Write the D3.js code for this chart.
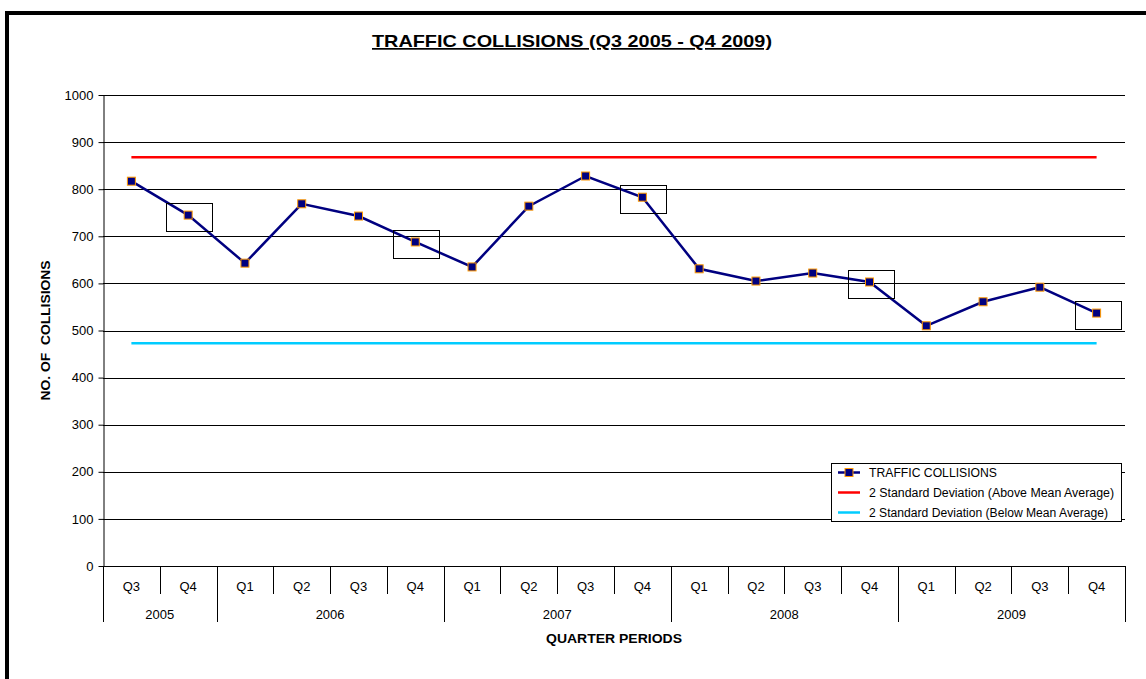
<!DOCTYPE html>
<html>
<head>
<meta charset="utf-8">
<script src="https://cdn.jsdelivr.net/npm/d3@7"></script>
<style>
	body { margin: 0; background: #fff; }
	svg text { font-family: Arial, "Liberation Sans", sans-serif; fill: #000; }
</style>
</head>
<body>
<div id="chart"></div>
<script>
//// data ////
var quarters = ["Q3","Q4","Q1","Q2","Q3","Q4","Q1","Q2","Q3","Q4","Q1","Q2","Q3","Q4","Q1","Q2","Q3","Q4"];
var years = ["2005","2005","2006","2006","2006","2006","2007","2007","2007","2007","2008","2008","2008","2008","2009","2009","2009","2009"];
var collisions = [817,745,643,769,743,688,635,764,828,783,631,605,622,603,510,561,592,537];
var upperLimit = 868;   // 2 SD above mean
var lowerLimit = 473;   // 2 SD below mean
var yTicks = [0,100,200,300,400,500,600,700,800,900,1000];
var highlighted = [1,5,9,13,17]; // Q4 points that have a box drawn round them

var W = 1146, H = 679;
var FONT = "Arial, 'Liberation Sans', sans-serif";
var margin = {left:103, top:95, right:21, bottom:113};
var width = W - margin.left - margin.right,
	height = H - margin.top - margin.bottom;

var svg = d3.select("#chart").append("svg")
	.attr("width", W)
	.attr("height", H)
	.attr("font-family", FONT);

// frame (only top and left edges show in the picture)
svg.append("rect")
	.attr("x", 7).attr("y", 13)
	.attr("width", W + 20).attr("height", H + 20)
	.attr("fill", "none")
	.attr("stroke", "#000")
	.attr("stroke-width", 4);

//title
svg.append("text")
	.attr("x", 572).attr("y", 47)
	.attr("text-anchor", "middle")
	.attr("textLength", 400)
	.attr("lengthAdjust", "spacingAndGlyphs")
	.style("font-size", "17px")
	.style("font-weight", "bold")
	.style("text-decoration", "underline")
	.text("TRAFFIC COLLISIONS (Q3 2005 - Q4 2009)");

var g = svg.append("g")
	.attr("transform", "translate(" + margin.left + "," + margin.top + ")");

var idx = d3.range(quarters.length);
var x = d3.scaleBand().domain(idx).range([0, width]);
var y = d3.scaleLinear().domain([0, 1000]).range([height, 0]);
var cx = function(i) { return x(i) + x.bandwidth() / 2; };

// gridlines
g.selectAll("line.grid")
	.data(yTicks.filter(function(t){ return t > 0; }))
	.enter().append("line")
	.attr("class", "grid")
	.attr("x1", 0).attr("x2", width)
	.attr("y1", function(d){ return Math.round(y(d)) + 0.5; })
	.attr("y2", function(d){ return Math.round(y(d)) + 0.5; })
	.attr("stroke", "#000")
	.attr("stroke-width", 1);

// y axis
var yAxis = g.append("g")
	.attr("transform", "translate(0.5,0)")
	.call(d3.axisLeft(y).tickValues(yTicks).tickFormat(d3.format("d")).tickSize(5).tickPadding(5).tickSizeOuter(0));
yAxis.attr("font-family", FONT).attr("font-size", 13);
yAxis.select(".domain").attr("stroke", "#000");
yAxis.selectAll("text").attr("fill", "#000");

// x axis line
g.append("line")
	.attr("x1", 0).attr("x2", width)
	.attr("y1", height + 0.5).attr("y2", height + 0.5)
	.attr("stroke", "#000");

// category separators: quarter ticks short, year boundaries long
var bounds = d3.range(quarters.length + 1);
g.selectAll("line.sep")
	.data(bounds)
	.enter().append("line")
	.attr("class", "sep")
	.attr("x1", function(i){ return Math.round(i * x.step()) + 0.5; })
	.attr("x2", function(i){ return Math.round(i * x.step()) + 0.5; })
	.attr("y1", height)
	.attr("y2", function(i){
		var isYear = i == 0 || i == quarters.length || years[i] != years[i-1];
		return height + (isYear ? 56 : 28);
	})
	.attr("stroke", "#000");

g.selectAll("text.qtr")
	.data(idx)
	.enter().append("text")
	.attr("class", "qtr")
	.attr("x", cx)
	.attr("y", height + 25)
	.attr("text-anchor", "middle")
	.style("font-size", "13px")
	.text(function(i){ return quarters[i]; });

// year labels centred across their quarters
var yearGroups = d3.groups(idx, function(i){ return years[i]; });
g.selectAll("text.year")
	.data(yearGroups)
	.enter().append("text")
	.attr("class", "year")
	.attr("x", function(d){ return (x(d[1][0]) + x(d[1][d[1].length-1]) + x.bandwidth()) / 2; })
	.attr("y", height + 53)
	.attr("text-anchor", "middle")
	.style("font-size", "13px")
	.text(function(d){ return d[0]; });

// axis titles
g.append("text")
	.attr("x", width / 2).attr("y", height + 77)
	.attr("text-anchor", "middle")
	.attr("textLength", 136)
	.attr("lengthAdjust", "spacingAndGlyphs")
	.style("font-size", "13.5px").style("font-weight", "bold")
	.text("QUARTER PERIODS");

g.append("text")
	.attr("transform", "translate(" + (-53) + "," + (height/2) + ") rotate(-90)")
	.attr("text-anchor", "middle")
	.attr("textLength", 140)
	.attr("lengthAdjust", "spacingAndGlyphs")
	.style("font-size", "13.5px").style("font-weight", "bold")
	.style("white-space", "pre")
	.text("NO. OF  COLLISIONS");

// limit lines
function limitLine(val, col) {
	g.append("line")
		.attr("x1", cx(0)).attr("x2", cx(quarters.length - 1))
		.attr("y1", y(val)).attr("y2", y(val))
		.attr("stroke", col)
		.attr("stroke-width", 2.5);
}
limitLine(upperLimit, "#ff0000");
limitLine(lowerLimit, "#00ccff");

// data line
var line = d3.line()
	.x(function(d,i){ return cx(i); })
	.y(function(d){ return y(d); });

g.append("path")
	.datum(collisions)
	.attr("fill", "none")
	.attr("stroke", "#000080")
	.attr("stroke-width", 2.5)
	.attr("d", line);

// boxes around Q4 points
g.selectAll("rect.hl")
	.data(highlighted)
	.enter().append("rect")
	.attr("class", "hl")
	.attr("x", function(i){ return Math.round(cx(i) - 22) + 0.5; })
	.attr("y", function(i){ return Math.round(y(collisions[i]) - 12) + 0.5; })
	.attr("width", 46).attr("height", 28)
	.attr("fill", "none")
	.attr("stroke", "#000")
	.attr("stroke-width", 1);

// markers
g.selectAll("rect.pt")
	.data(collisions)
	.enter().append("rect")
	.attr("class", "pt")
	.attr("x", function(d,i){ return cx(i) - 4; })
	.attr("y", function(d){ return y(d) - 4; })
	.attr("width", 8).attr("height", 8)
	.attr("fill", "#000080")
	.attr("stroke", "#ff9900")
	.attr("stroke-width", 1);

//// legend ////
var legend = svg.append("g").attr("transform", "translate(831,463)");
legend.append("rect")
	.attr("x", 0.5).attr("y", 0.5)
	.attr("width", 290).attr("height", 58)
	.attr("fill", "#fff").attr("stroke", "#000");

var legendItems = [
	{name: "TRAFFIC COLLISIONS", color: "#000080", marker: true, len: 128},
	{name: "2 Standard Deviation (Above Mean Average)", color: "#ff0000", len: 245},
	{name: "2 Standard Deviation (Below Mean Average)", color: "#00ccff", len: 239}
];
var li = legend.selectAll("g.item")
	.data(legendItems)
	.enter().append("g")
	.attr("class", "item")
	.attr("transform", function(d,i){ return "translate(0," + (9.5 + i * 20) + ")"; });
li.append("line")
	.attr("x1", 7).attr("x2", 29)
	.attr("stroke", function(d){ return d.color; })
	.attr("stroke-width", 2.5);
li.filter(function(d){ return d.marker; }).append("rect")
	.attr("x", 14).attr("y", -4)
	.attr("width", 8).attr("height", 8)
	.attr("fill", "#000080").attr("stroke", "#ff9900");
li.append("text")
	.attr("x", 38).attr("y", 4.5)
	.attr("textLength", function(d){ return d.len; })
	.attr("lengthAdjust", "spacingAndGlyphs")
	.style("font-size", "12.5px")
	.text(function(d){ return d.name; });
</script>
</body>
</html>
